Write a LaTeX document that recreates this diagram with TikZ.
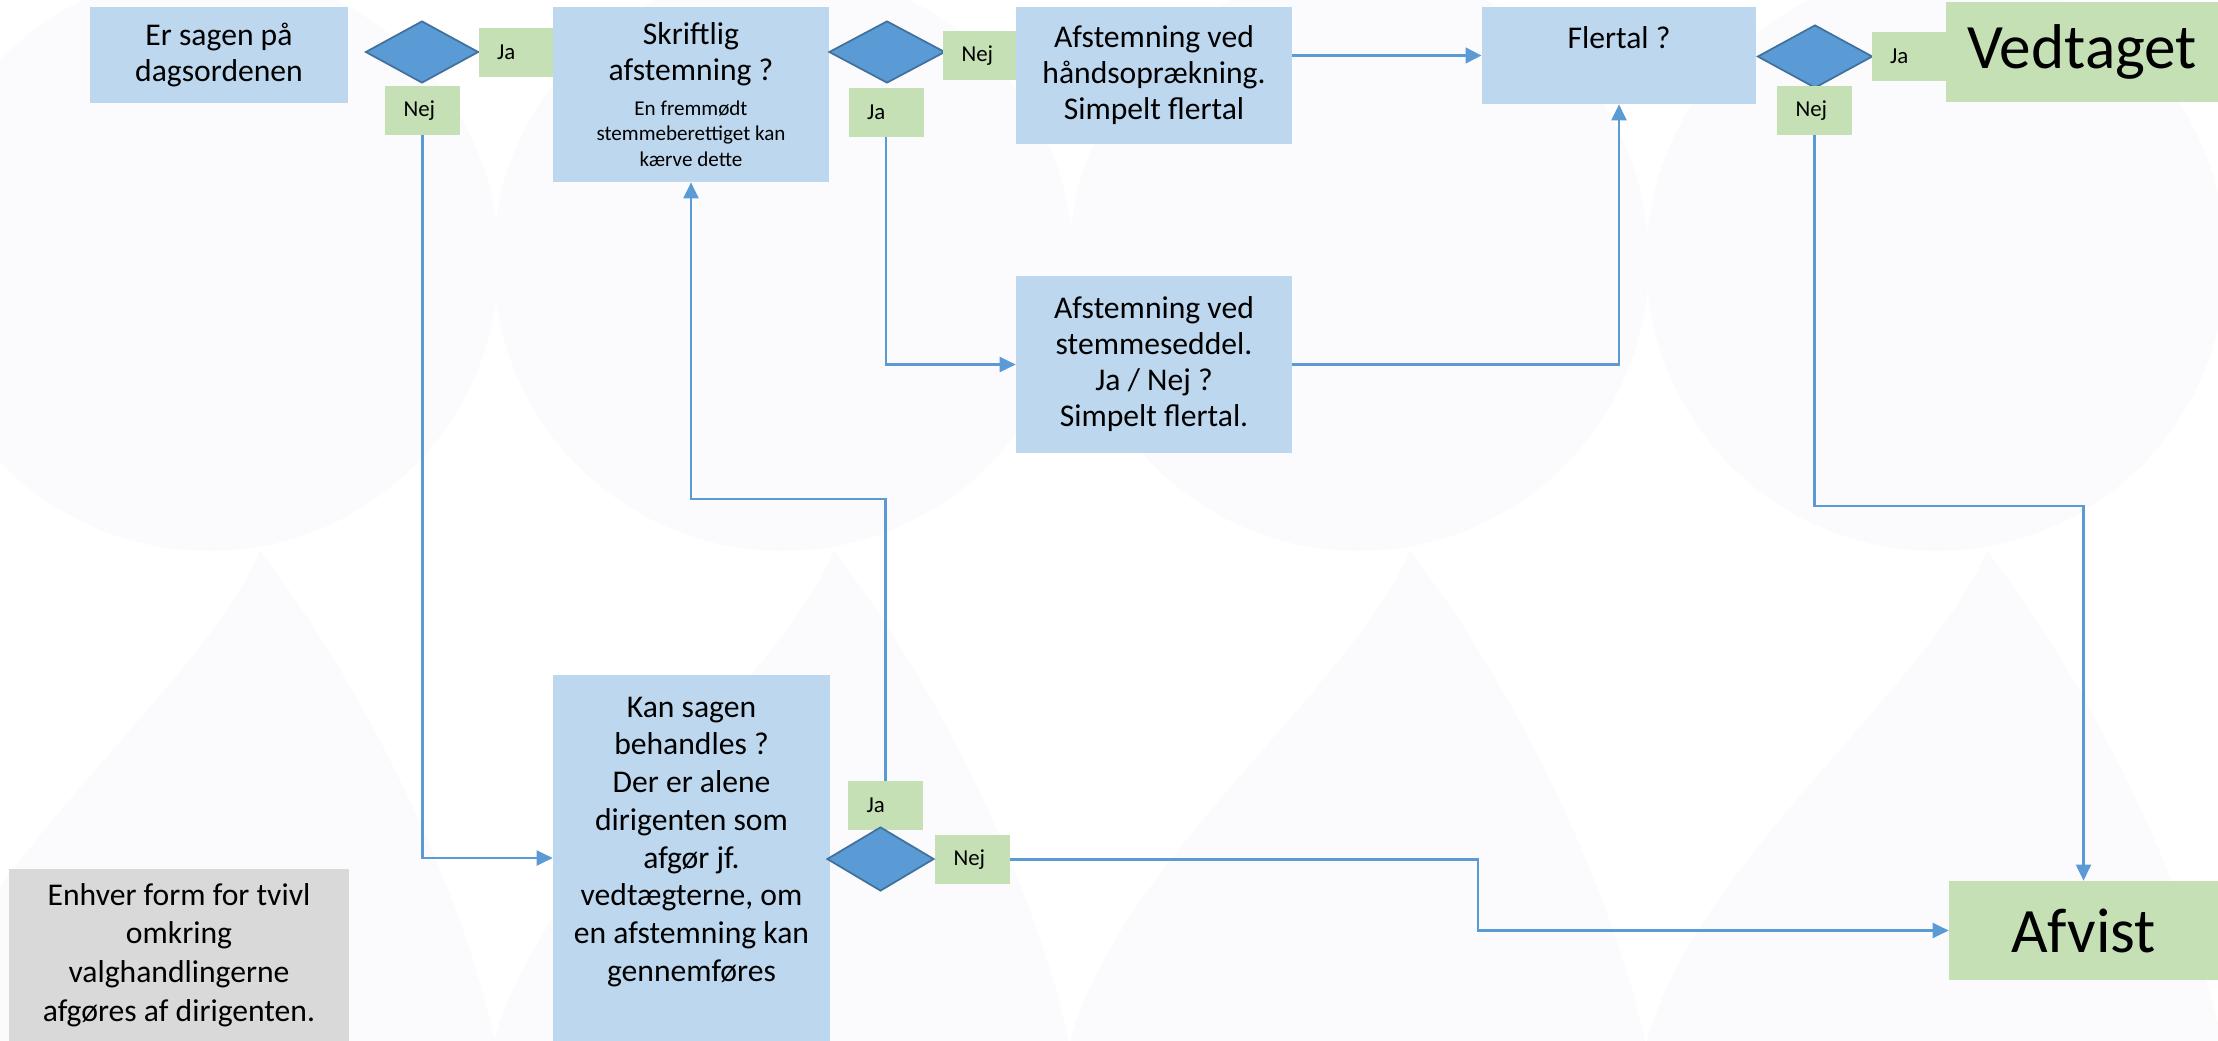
\documentclass[tikz,border=0pt]{standalone}
\usepackage{fontspec}
\setmainfont{Carlito}
\usetikzlibrary{shapes.geometric,positioning,arrows.meta}

\definecolor{boxblue}{HTML}{BDD7EE}
\definecolor{diablue}{HTML}{5B9BD5}
\definecolor{diaedge}{HTML}{41719C}
\definecolor{answergreen}{HTML}{C5E0B4}
\definecolor{notegray}{HTML}{D9D9D9}
\definecolor{watermark}{HTML}{FBFBFD}

\newcommand{\boxfont}{\fontsize{18}{20.5}\selectfont}
\newcommand{\smallboxfont}{\fontsize{12}{14.5}\selectfont}

\tikzset{
	stepbox/.style={fill=boxblue, align=center, inner sep=0pt, font=\boxfont},
	choice/.style={diamond, fill=diablue, draw=diaedge, line width=1pt, inner sep=0pt},
	answer/.style={fill=answergreen, inner xsep=0.37cm, inner ysep=0pt, text width=0.76cm, align=left, minimum height=0.98cm, font=\fontsize{13}{15}\selectfont},
	result/.style={fill=answergreen, inner sep=0pt, font=\fontsize{36}{40}\selectfont},
	notebox/.style={fill=notegray, align=center, inner sep=0pt, font=\fontsize{18}{22}\selectfont},
	flow/.style={draw=diablue, line width=1.2pt, -{Triangle[length=0.32cm, width=0.3cm]}}
}

\begin{document}
\begin{tikzpicture}[x=0.02cm, y=-0.02cm]
	\useasboundingbox (0,0) rectangle (2218,1041);
	% faint background drops
	\foreach \px in {260, 834, 1410, 1987} {
		\fill[watermark] (\px-51,261) circle [radius=290];
		\fill[watermark] (\px,551) .. controls (\px-60,690) and (\px-290,860) .. (\px-340,1041)
			-- (\px+235,1041) .. controls (\px+200,880) and (\px+100,680) .. (\px,551);
	}

	% top row
	\node[stepbox, minimum width=5.16cm, minimum height=1.92cm] (dagsorden) at (219,55) {Er sagen på\\dagsordenen};
	\node[choice, minimum width=2.26cm, minimum height=1.24cm] (valg1) at (422,52) {};
	\node[answer] (ja1) at (516,52.5) {Ja};
	\node[answer] (nej1) at (422.5,110.5) {Nej};
	\node[stepbox, minimum width=5.52cm, minimum height=3.5cm] (skriftlig) at (691,94.5) {Skriftlig\\afstemning ?\\[-1pt]{\smallboxfont En fremmødt}\\[-6pt]{\smallboxfont stemmeberettiget kan}\\[-6pt]{\smallboxfont kærve dette}};
	\node[choice, minimum width=2.32cm, minimum height=1.24cm] (valg2) at (887,52) {};
	\node[answer] (nej2) at (980.5,55.5) {Nej};
	\node[answer] (ja2) at (886,112.5) {Ja};
	\node[stepbox, minimum width=5.52cm, minimum height=2.74cm] (haand) at (1154,75.5) {Afstemning ved\\håndsoprækning.\\Simpelt flertal};
	\node[stepbox, minimum width=5.48cm, minimum height=1.94cm] (flertal) at (1619,55.5) {Flertal ?\\~};
	\node[choice, minimum width=2.3cm, minimum height=1.26cm] (valg3) at (1815,56.5) {};
	\node[answer] (ja3) at (1909,56.5) {Ja};
	\node[answer] (nej3) at (1814.5,110.5) {Nej};
	\node[result, minimum width=5.44cm, minimum height=2cm] (vedtaget) at (2082,52) {Vedtaget};

	% middle
	\node[stepbox, minimum width=5.52cm, minimum height=3.54cm] (seddel) at (1154,364.5) {Afstemning ved\\stemmeseddel.\\Ja / Nej ?\\Simpelt flertal.};

	% bottom row
	\node[stepbox, minimum width=5.54cm, minimum height=7.32cm, font=\fontsize{18}{21.5}\selectfont] (behandles) at (691.5,858) {Kan sagen\\behandles ?\\Der er alene\\dirigenten som\\afgør jf.\\vedtægterne, om\\en afstemning kan\\gennemføres\\~};
	\node[answer] (ja4) at (885.5,805.5) {Ja};
	\node[answer] (nej4) at (972.5,859.5) {Nej};
	\node[choice, minimum width=2.14cm, minimum height=1.28cm] (valg4) at (880.5,859) {};
	\node[result, minimum width=5.38cm, minimum height=1.98cm] (afvist) at (2083.5,930.5) {Afvist};
	\node[notebox, minimum width=6.8cm, minimum height=3.44cm] (tvivl) at (179,955) {Enhver form for tvivl\\omkring\\valghandlingerne\\afgøres af dirigenten.};

	\coordinate (jaturn) at (0,499);
	\coordinate (nejturn) at (0,506);
	\coordinate (nejkink) at (1478,0);

	\draw[flow, line width=2.2pt] (haand.east |- flertal.west) -- (flertal.west);
	\draw[flow] (nej1.south) |- (behandles.west);
	\draw[flow] (ja4.north) -- (ja4.north |- jaturn) -- (skriftlig.south |- jaturn) -- (skriftlig.south);
	\draw[flow] (ja2.south) |- (seddel.west);
	\draw[flow] (seddel.east) -| (flertal.south);
	\draw[flow] (nej3.south) -- (nej3.south |- nejturn) -- (afvist.north |- nejturn) -- (afvist.north);
	\draw[flow] (nej4.east) -- (nej4.east -| nejkink) -- (nejkink |- afvist.west) -- (afvist.west);
\end{tikzpicture}
\end{document}
